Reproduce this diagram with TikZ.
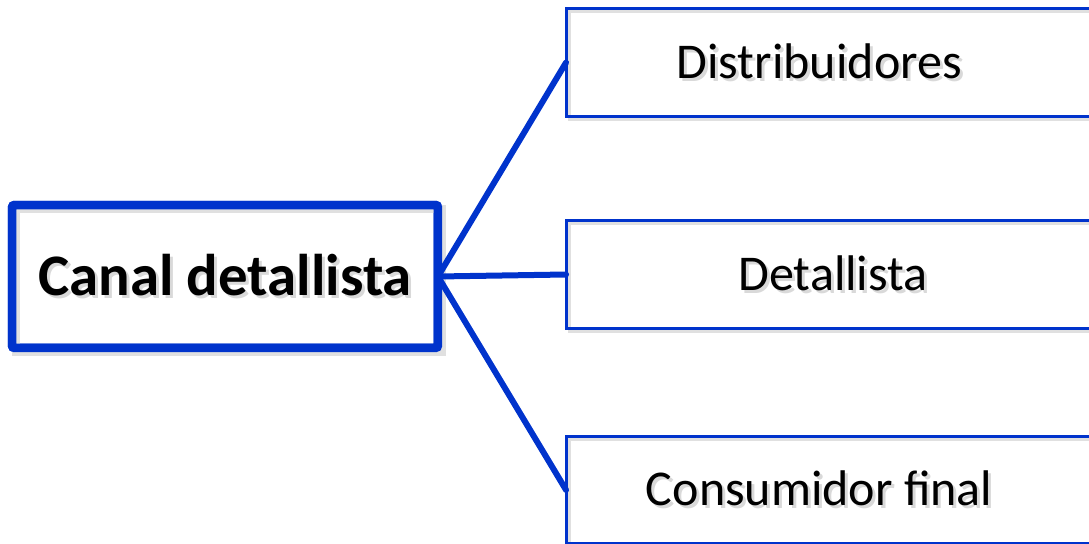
\documentclass[tikz,border=0pt]{standalone}
\usepackage{fontspec}
\setmainfont{Carlito}
\definecolor{chanblue}{RGB}{0,51,204}
\newcommand{\shadowed}[1]{\rlap{\kern0.06cm\raisebox{-0.06cm}{\color{black!15}#1}}#1}

\begin{document}
\begin{tikzpicture}[x=0.02cm,y=-0.02cm]
    \tikzstyle{mainbox}=[draw=chanblue, line width=0.17cm, rounded corners=0.05cm, inner sep=0pt, outer sep=0pt, minimum width=8.52cm, minimum height=2.86cm, font=\fontsize{33.5}{40}\selectfont\bfseries]
    \tikzstyle{levelbox}=[draw=chanblue, line width=0.06cm, inner sep=0pt, outer sep=0pt, minimum width=10.68cm, minimum height=2.16cm, font=\fontsize{28.5}{34}\selectfont]
    \tikzstyle{boxshadow}=[draw=black!12]
    \tikzstyle{link}=[draw=chanblue, line width=0.12cm, line cap=round]
    \useasboundingbox (0,0) rectangle (1089,544);

    \node[mainbox] (canal) at (225,276.5) {\shadowed{Canal detallista}};

    \node[levelbox] (dist) at (833,62.5) {\shadowed{Distribuidores}\kern0.55cm};
    \node[levelbox] (det) at (833,274.5) {\shadowed{Detallista}};
    \node[levelbox] (cons) at (833,490) {\shadowed{Consumidor final}\kern0.55cm};

    % shadows
    \draw[boxshadow, line width=0.17cm] ([shift={(4,4)}]canal.north west) rectangle ([shift={(4,4)}]canal.south east);
    \foreach \n in {dist,det,cons}
        \draw[boxshadow, line width=0.06cm] ([shift={(3,3)}]\n.north west) rectangle ([shift={(3,3)}]\n.south east);

    % redraw frames over shadows
    \draw[chanblue, line width=0.17cm, rounded corners=0.05cm] (canal.north west) rectangle (canal.south east);
    \foreach \n in {dist,det,cons}
        \draw[chanblue, line width=0.06cm] (\n.north west) rectangle (\n.south east);

    % edges
    \draw[link] (canal.east) -- (dist.west);
    \draw[link] (canal.east) -- (det.west);
    \draw[link] (canal.east) -- (cons.west);

\end{tikzpicture}
\end{document}
